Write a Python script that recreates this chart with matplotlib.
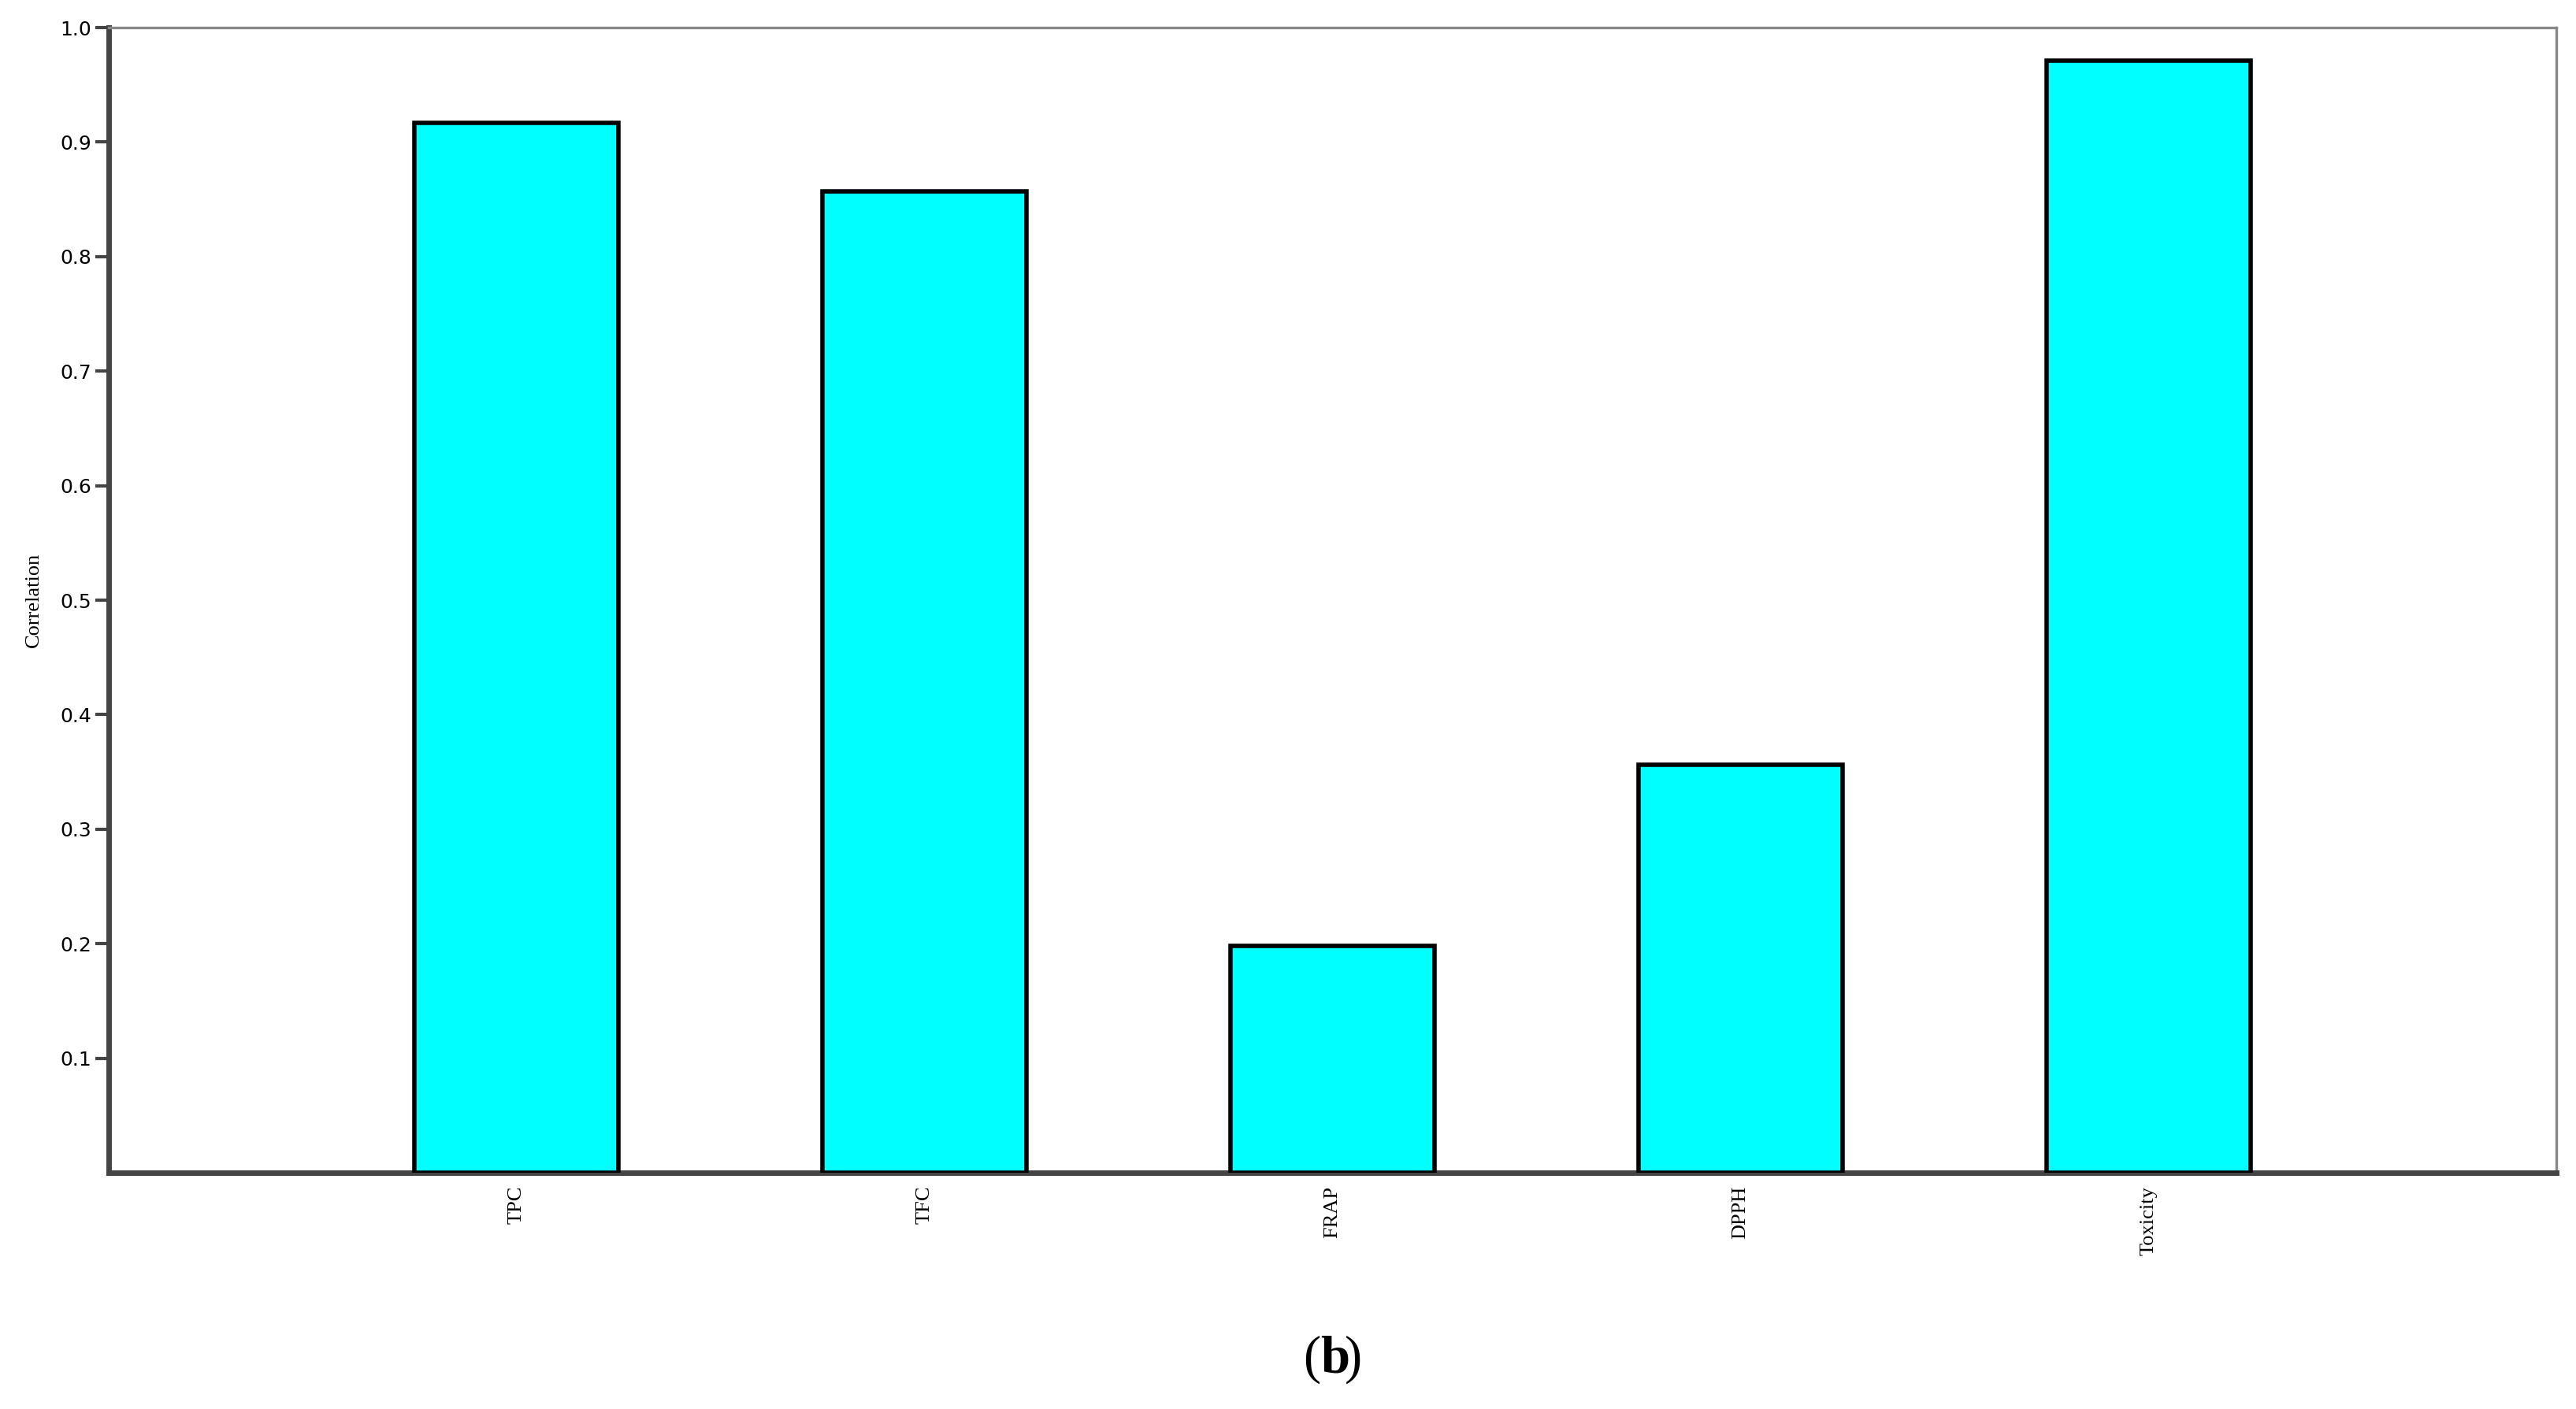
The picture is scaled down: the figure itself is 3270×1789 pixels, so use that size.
import matplotlib
matplotlib.use('Agg')
import matplotlib.pyplot as plt
import numpy as np

categories = ['TPC', 'TFC', 'FRAP', 'DPPH', 'Toxicity']
correlation = [0.917, 0.857, 0.198, 0.356, 0.971]
yticks = [0.1, 0.2, 0.3, 0.4, 0.5, 0.6, 0.7, 0.8, 0.9, 1.0]

fig = plt.figure(figsize=(16.35, 8.945), dpi=200)
ax = fig.add_axes([0.0422, 0.1677, 0.9502, 0.8127])

x = np.arange(len(categories))
ax.bar(x, correlation, width=0.5, color='#00ffff', edgecolor='black', linewidth=2.0, zorder=3)

ax.set_xlim(-1, len(categories))
ax.set_ylim(0, 1.0)
ax.set_xticks(x)
ax.set_xticklabels(categories, rotation=90, family='Liberation Serif', fontsize=9.5)
ax.tick_params(axis='x', length=0, pad=6)
ax.set_yticks(yticks)
ax.set_yticklabels(['%.1f' % v for v in yticks], family='DejaVu Sans', fontsize=9)
ax.tick_params(axis='y', length=6, width=1.5, color='#444444', pad=2)

ax.set_ylabel('Correlation', family='Liberation Serif', fontsize=9.5, labelpad=8)

ax.spines['left'].set_linewidth(2.5)
ax.spines['left'].set_color('#444444')
ax.spines['bottom'].set_linewidth(2.5)
ax.spines['bottom'].set_color('#444444')
ax.spines['top'].set_linewidth(1.2)
ax.spines['top'].set_color('#888888')
ax.spines['right'].set_linewidth(1.2)
ax.spines['right'].set_color('#888888')

fig.text(0.5125, 0.035, '(', family='Liberation Serif', fontsize=24, ha='right', va='center')
fig.text(0.5125, 0.035, 'b', family='Liberation Serif', fontsize=24, fontweight='bold', ha='left', va='center')
fig.text(0.522, 0.035, ')', family='Liberation Serif', fontsize=24, ha='left', va='center')

fig.savefig('out.png', dpi=200)
